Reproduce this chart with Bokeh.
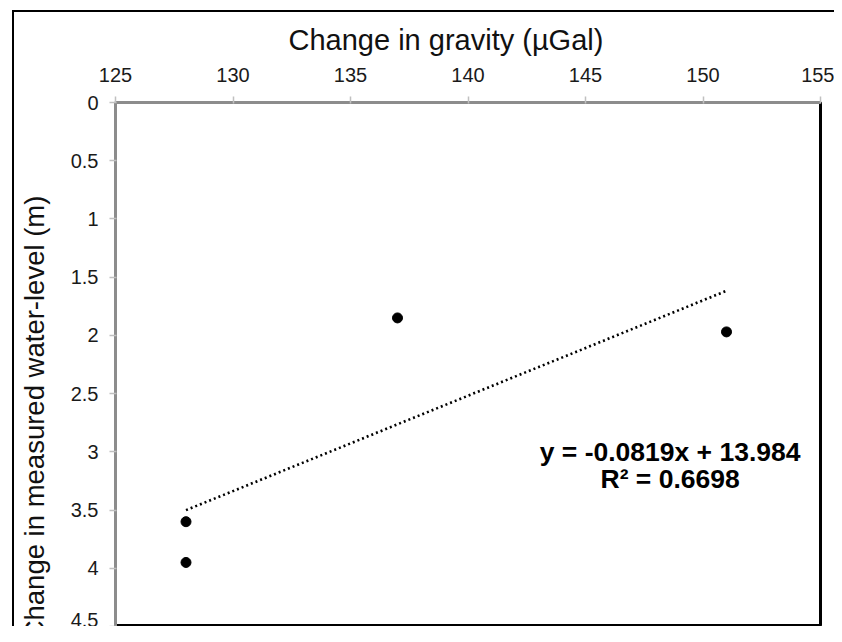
from bokeh.plotting import figure
from bokeh.models import Range1d, FixedTicker, Title, ColumnDataSource
from bokeh.core.properties import value
from bokeh.embed import file_html
from bokeh.resources import INLINE

# ---- data ----
gravity_change = [128, 128, 137, 151]          # µGal
water_level_change = [3.6, 3.95, 1.85, 1.97]   # m
x_ticks = [125, 130, 135, 140, 145, 150, 155]
y_ticks = [0, 0.5, 1, 1.5, 2, 2.5, 3, 3.5, 4, 4.5]
y_tick_labels = ["0", "0.5", "1", "1.5", "2", "2.5", "3", "3.5", "4", "4.5"]
trend_slope = -0.0819
trend_intercept = 13.984
trend_r2 = 0.6698
x_title = "Change in gravity (µGal)"
y_title = "Change in measured water-level (m)"

FONT = "Liberation Sans"

# outer chart border: left and top edges (drawn as CSS background behind a transparent border area)
frame_css = ("linear-gradient(#000,#000) 12px 10px / 2px 100% no-repeat, "
             "linear-gradient(#000,#000) 12px 10px / 100% 2px no-repeat, #ffffff")

p = figure(width=834, height=626,
           x_range=Range1d(125, 155), y_range=Range1d(4.5, 0),
           x_axis_location="above",
           output_backend="svg", toolbar_location=None,
           min_border_left=115, min_border_top=102,
           min_border_right=14, min_border_bottom=0,
           styles={"background": frame_css})

p.grid.visible = False
p.background_fill_color = "white"
p.border_fill_alpha = 0
p.outline_line_color = "black"
p.outline_line_width = 3
p.outline_line_alpha = 1.0

for ax in (p.xaxis[0], p.yaxis[0]):
    ax.axis_line_color = "#8c8c8c"
    ax.axis_line_width = 3
    ax.major_tick_line_color = "#c0c0c0"
    ax.major_tick_line_width = 1.5
    ax.major_tick_out = 6
    ax.major_tick_in = 1
    ax.minor_tick_line_color = None
    ax.major_label_text_font = FONT
    ax.major_label_text_font_size = "20px"
    ax.major_label_text_color = "#1a1a1a"
    ax.major_label_standoff = 11

p.xaxis.major_label_standoff = 15
p.xaxis.ticker = FixedTicker(ticks=x_ticks)
p.yaxis.ticker = FixedTicker(ticks=y_ticks)
p.yaxis.major_label_overrides = {t: l for t, l in zip(y_ticks, y_tick_labels)}

# y-axis title: the axis centres its label on the frame; trailing no-break spaces
# move the visible words down to where the reference shows them
p.yaxis.axis_label = y_title + "\u00a0" * 14
p.yaxis.axis_label_text_font = FONT
p.yaxis.axis_label_text_font_size = "27.5px"
p.yaxis.axis_label_text_font_style = "normal"
p.yaxis.axis_label_text_color = "#111111"
p.yaxis.axis_label_standoff = 18

tx = Title(text=x_title, align="left", offset=173, text_font=FONT,
           text_font_size="29px", text_font_style="normal", text_color="#111111",
           standoff=18)
p.add_layout(tx, "above")

# trend line from the chart's own equation over the data's x span
tx_pts = [min(gravity_change), max(gravity_change)]
ty_pts = [trend_slope * v + trend_intercept for v in tx_pts]
p.line(tx_pts, ty_pts, line_color="black", line_width=2.6, line_dash="2 3")

src = ColumnDataSource(dict(x=gravity_change, y=water_level_change))
p.scatter("x", "y", source=src, size=10, color="black")

eq_lines = [f"y = {trend_slope}x + {trend_intercept}", f"R² = {trend_r2}"]
p.text(x=[148.6, 148.6], y=[3.0, 3.23], text=eq_lines,
       text_font=value(FONT), text_font_size="26.5px", text_font_style="bold",
       text_align="center", text_baseline="alphabetic", text_color="black")

open("out.html", "w").write(file_html(p, INLINE))
